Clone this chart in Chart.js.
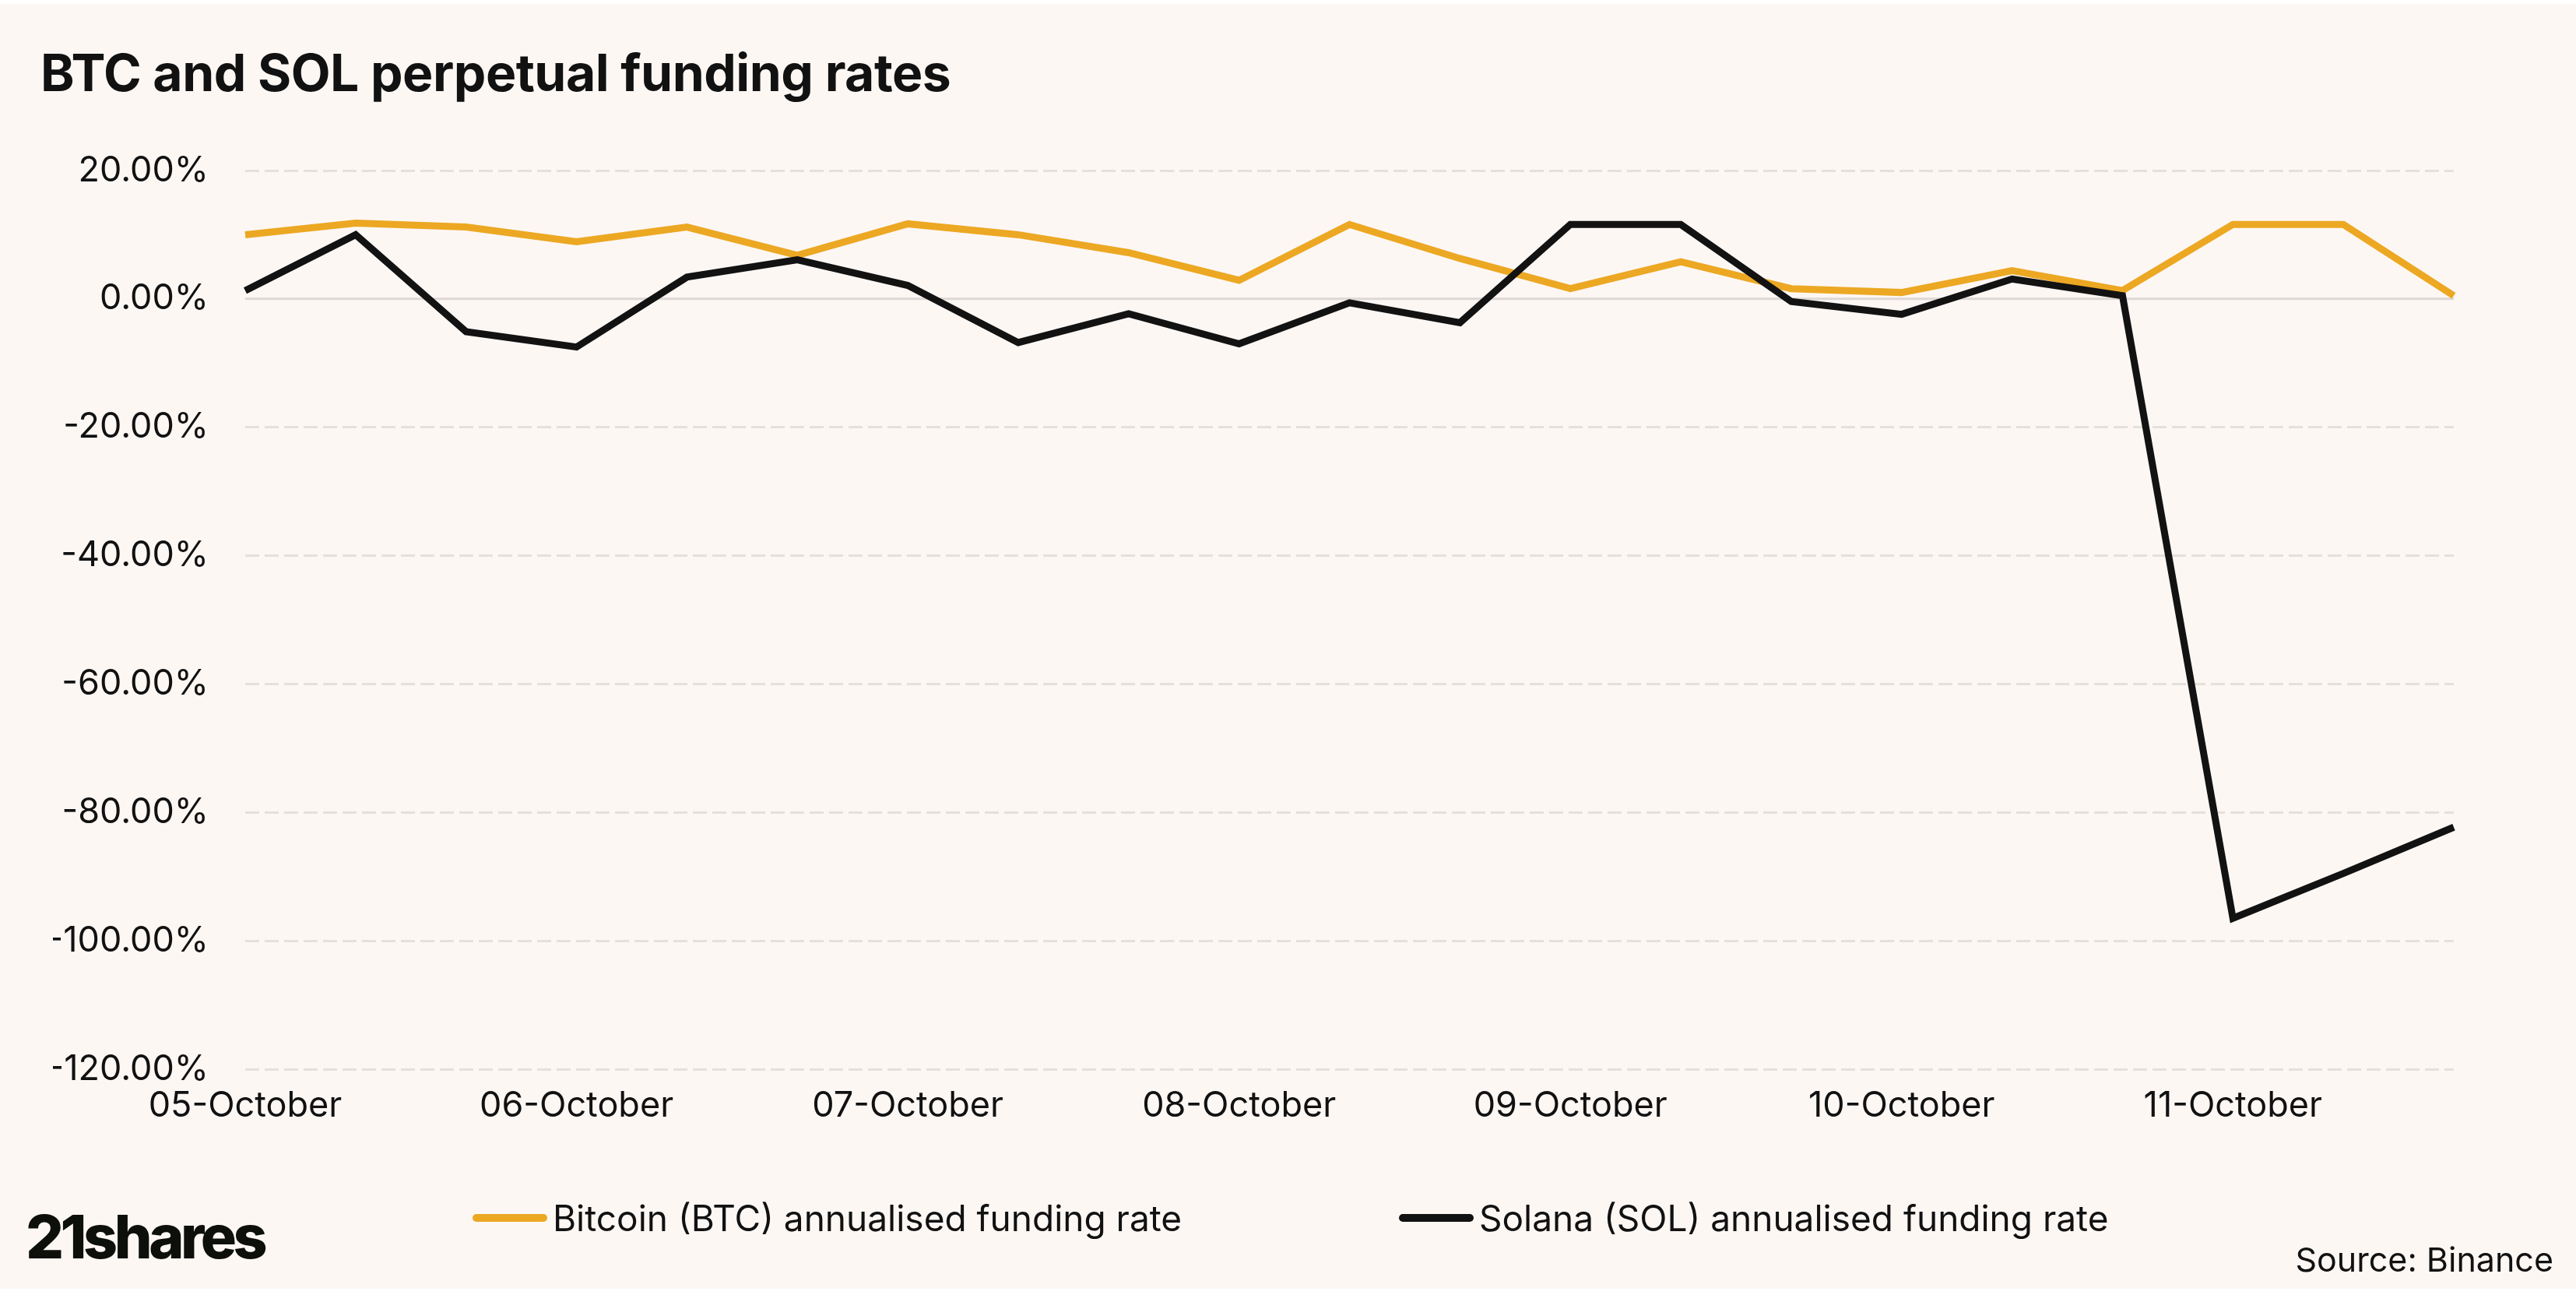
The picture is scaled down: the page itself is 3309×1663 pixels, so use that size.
<!DOCTYPE html>
<html>
<head>
<meta charset="utf-8">
<script src="https://cdn.jsdelivr.net/npm/chart.js@4.4.1/dist/chart.umd.min.js"></script>
<style>
  html, body { margin: 0; padding: 0; background: #ffffff; }
  body { width: 3309px; height: 1663px; position: relative; overflow: hidden; font-family: Inter, "Noto Sans", sans-serif; color: #111111; }
  #panel { position: absolute; left: 0; top: 5px; width: 3309px; height: 1650px; background: #fdf7f4; }
  #chart { position: absolute; left: 0; top: 0; }
  .title { position: absolute; left: 52px; top: 60px; font-size: 66px; line-height: 66px; font-weight: 700; letter-spacing: -0.5px; white-space: nowrap; }
  .legend-item { position: absolute; top: 1536px; height: 56px; display: flex; align-items: center; font-size: 46px; white-space: nowrap; }
  .swatch { width: 96px; height: 10px; border-radius: 5px; margin-right: 7px; }
  .logo { position: absolute; left: 33px; top: 1550px; font-size: 77px; line-height: 77px; font-weight: 800; letter-spacing: -4.5px; color: #0d0f0b; }
  .source { position: absolute; right: 29px; top: 1592px; font-size: 43px; line-height: 50px; }
</style>
</head>
<body>
<div id="panel"></div>
<canvas id="chart" width="3309" height="1663"></canvas>
<div class="title">BTC and SOL perpetual funding rates</div>
<div id="legend"></div>
<div class="logo">21shares</div>
<div class="source">Source: Binance</div>
<script>
// 8-hourly funding periods, 05-11 October (labels only on the first period of each day)
const periodLabels = [
  '05-October', '', '',
  '06-October', '', '',
  '07-October', '', '',
  '08-October', '', '',
  '09-October', '', '',
  '10-October', '', '',
  '11-October', '', ''
];
// annualised funding rate, %
const btcFunding = [10.0, 11.8, 11.2, 8.9, 11.2, 6.8, 11.7, 10.0, 7.2, 2.9, 11.6,
                    6.3, 1.6, 5.8, 1.6, 1.0, 4.4, 1.3, 11.6, 11.6, 0.5];
const solFunding = [1.3, 10.0, -5.1, -7.5, 3.4, 6.1, 2.1, -6.8, -2.3, -7.0, -0.6,
                    -3.7, 11.6, 11.6, -0.4, -2.4, 3.1, 0.5, -96.5, -89.5, -82.3];
const seriesNames = ['Bitcoin (BTC) annualised funding rate', 'Solana (SOL) annualised funding rate'];
const seriesColors = ['#eca823', '#121212'];
const yMin = -120, yMax = 20, yStep = 20;

// solid line at 0%, drawn under the series
const zeroLinePlugin = {
  id: 'zeroLine',
  beforeDatasetsDraw(chart, args, options) {
    const {ctx, chartArea: {left, right}, scales: {y}} = chart;
    const yPos = y.getPixelForValue(0);
    ctx.save();
    ctx.beginPath();
    ctx.lineWidth = options.width;
    ctx.strokeStyle = options.color;
    ctx.moveTo(left, yPos);
    ctx.lineTo(right, yPos);
    ctx.stroke();
    ctx.restore();
  }
};

const tickFont = { family: 'Inter', size: 45 };

new Chart(document.getElementById('chart').getContext('2d'), {
  type: 'line',
  data: {
    labels: periodLabels,
    datasets: [{
      label: seriesNames[0],
      data: btcFunding,
      borderColor: seriesColors[0],
      borderWidth: 9,
      order: 2
    }, {
      label: seriesNames[1],
      data: solFunding,
      borderColor: seriesColors[1],
      borderWidth: 9,
      order: 1
    }]
  },
  options: {
    responsive: false,
    devicePixelRatio: 1,
    animation: false,
    layout: { padding: { left: 68, right: 157, top: 219, bottom: 200 } },
    elements: {
      point: { radius: 0, hoverRadius: 0 },
      line: { tension: 0, borderJoinStyle: 'miter', fill: false }
    },
    scales: {
      x: {
        grid: { display: false, drawTicks: false },
        border: { display: false },
        ticks: {
          autoSkip: false,
          maxRotation: 0,
          padding: 20,
          color: '#111111',
          font: tickFont
        },
        afterFit(scale) { scale.height = 90; }
      },
      y: {
        min: yMin,
        max: yMax,
        grid: {
          drawTicks: false,
          lineWidth: 3,
          color: (ctx) => ctx.tick && ctx.tick.value === 0 ? 'rgba(0,0,0,0)' : '#e6e0dd'
        },
        border: { display: false, dash: [18, 7] },
        ticks: {
          stepSize: yStep,
          padding: 47,
          color: '#111111',
          font: tickFont,
          callback: (v) => v.toFixed(2) + '%'
        },
        afterFit(scale) { scale.width = 247; }
      }
    },
    plugins: {
      legend: { display: false },
      tooltip: { enabled: false },
      zeroLine: { color: '#ddd8d5', width: 3 }
    }
  },
  plugins: [zeroLinePlugin]
});

// legend
const legendLeft = [607, 1797];
const legendEl = document.getElementById('legend');
seriesNames.forEach((name, i) => {
  const item = document.createElement('div');
  item.className = 'legend-item';
  item.style.left = legendLeft[i] + 'px';
  item.innerHTML = '<span class="swatch" style="background:' + seriesColors[i] + '"></span><span>' + name + '</span>';
  legendEl.appendChild(item);
});
</script>
</body>
</html>
